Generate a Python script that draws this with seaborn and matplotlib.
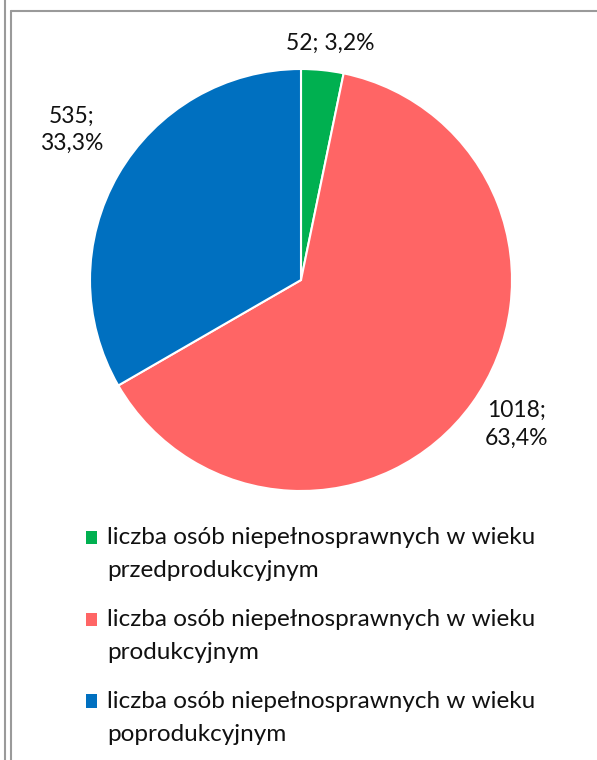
import matplotlib
matplotlib.use("Agg")
import matplotlib.pyplot as plt
import seaborn as sns
import numpy as np
from matplotlib.lines import Line2D
from matplotlib.patches import Patch, Rectangle
from matplotlib.legend_handler import HandlerPatch

# data
groups = ["liczba osób niepełnosprawnych w wieku\nprzedprodukcyjnym",
          "liczba osób niepełnosprawnych w wieku\nprodukcyjnym",
          "liczba osób niepełnosprawnych w wieku\npoprodukcyjnym"]
counts = [52, 1018, 535]
colors = ["#00B050", "#FF6565", "#0070C0"]
# label placement: distance from centre (in radii) and angle nudge (deg)
label_dist = [1.13, 1.23, 1.30]
label_nudge = [-1.2, 2.1, -3.2]
label_wrap = [False, True, True]

sns.set_theme(style="white")
plt.rcParams['font.family'] = ['Lato', 'DejaVu Sans']

fig = plt.figure(figsize=(5.97, 7.6), dpi=100)
W, H = 597, 760
cx, cy, R = 301, 280, 211
lim = 1.4
ax = fig.add_axes([(cx - lim * R) / W, 1 - (cy + lim * R) / H, 2 * lim * R / W, 2 * lim * R / H])

wedges, _ = ax.pie(counts, colors=sns.color_palette(colors), startangle=90, counterclock=False,
                   wedgeprops=dict(edgecolor="white", linewidth=1.5))
ax.set_xlim(-lim, lim)
ax.set_ylim(-lim, lim)
ax.set_aspect("equal")
ax.axis("off")

total = sum(counts)
for w, n, d, nudge, wrap in zip(wedges, counts, label_dist, label_nudge, label_wrap):
    ang = np.deg2rad((w.theta1 + w.theta2) / 2 + nudge)
    pct = f"{100 * n / total:.1f}".replace(".", ",") + "%"
    sep = ";\n" if wrap else "; "
    ax.text(d * np.cos(ang), d * np.sin(ang), f"{n}{sep}{pct}", ha="center", va="center",
            fontsize=16.5, color="#111111", linespacing=1.4)


# put the legend square next to the first line of a two-line label
def top_square(legend, orig_handle, xdescent, ydescent, width, height, fontsize):
    shift = 16.5 * 72 / 100
    return Rectangle((-xdescent, -ydescent + shift), width, height)


fs = 17.5
handles = [Patch(facecolor=c, edgecolor="none") for c in colors]
leg = fig.legend(handles, groups, loc="upper left", bbox_to_anchor=(86 / W, 1 - 527 / H),
                 frameon=False, fontsize=fs, handlelength=0.45, handleheight=0.45,
                 handletextpad=0.42, labelspacing=1.15, borderpad=0, borderaxespad=0,
                 handler_map={Patch: HandlerPatch(patch_func=top_square)})
for t in leg.get_texts():
    t.set_linespacing(1.7)
    t.set_color("#111111")

# frame lines of the original document
gray = "#9a9a9a"
fig.add_artist(Line2D([4.5 / W, 4.5 / W], [0, 1], color=gray, lw=1.5))
fig.add_artist(Line2D([10.5 / W, 10.5 / W], [0, 1 - 10.5 / H], color=gray, lw=1.5))
fig.add_artist(Line2D([10.5 / W, 1], [1 - 10.5 / H, 1 - 10.5 / H], color=gray, lw=1.5))

plt.savefig("out.png", dpi=100)
